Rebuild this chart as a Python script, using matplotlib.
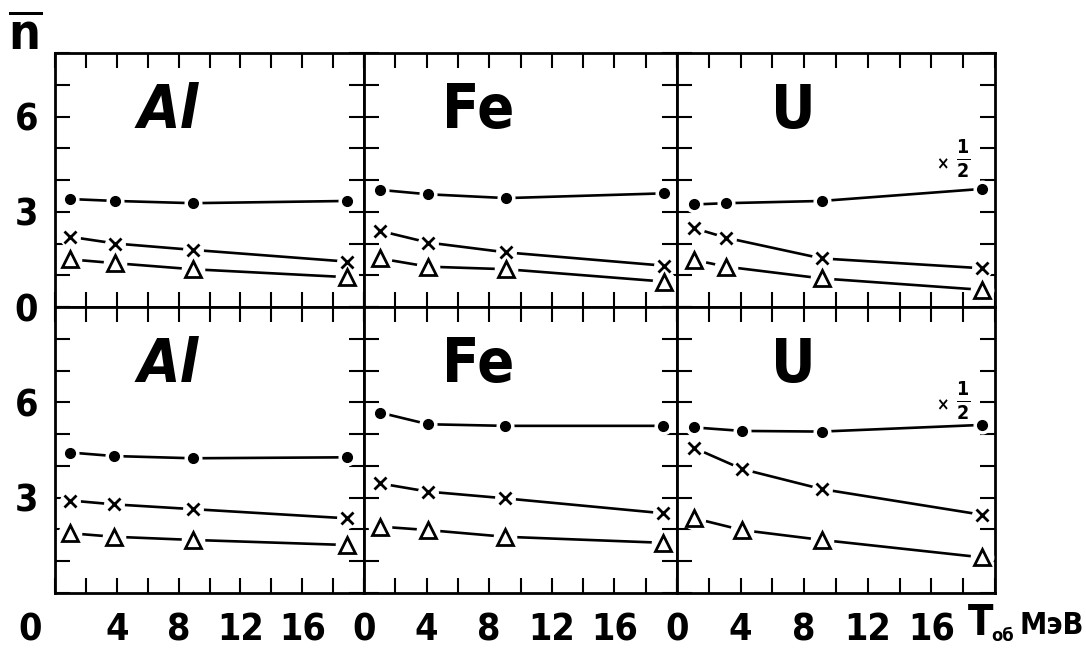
import matplotlib
matplotlib.use("Agg")
import matplotlib.pyplot as plt
from matplotlib import font_manager

# ---------------- data ----------------
elements = ["Al", "Fe", "U"]
x_tick_pos = [0, 4, 8, 12, 16]
x_ticklabels = ["0", "4", "8", "12", "16"]
y_tick_pos = [0, 3, 6]
y_ticklabels = ["0", "3", "6"]

# top row
top_al_x = [1.0, 3.9, 8.9, 18.9]
top_al_dot = [3.40, 3.34, 3.27, 3.34]
top_al_cross = [2.21, 2.00, 1.80, 1.43]
top_al_tri = [1.50, 1.38, 1.19, 0.94]

top_fe_x = [1.0, 4.1, 9.1, 19.2]
top_fe_dot = [3.69, 3.55, 3.43, 3.58]
top_fe_cross = [2.40, 2.03, 1.72, 1.30]
top_fe_tri = [1.53, 1.27, 1.19, 0.80]

top_u_x = [1.1, 3.1, 9.1, 19.2]
top_u_dot = [3.23, 3.27, 3.34, 3.72]
top_u_cross = [2.48, 2.18, 1.53, 1.22]
top_u_tri = [1.48, 1.27, 0.90, 0.54]

# bottom row
bot_al_x = [1.0, 3.8, 8.9, 18.9]
bot_al_dot = [4.42, 4.31, 4.24, 4.27]
bot_al_cross = [2.91, 2.79, 2.64, 2.35]
bot_al_tri = [1.88, 1.77, 1.67, 1.51]

bot_fe_x = [1.0, 4.1, 9.0, 19.1]
bot_fe_dot = [5.68, 5.31, 5.26, 5.26]
bot_fe_cross = [3.45, 3.19, 2.98, 2.51]
bot_fe_tri = [2.09, 1.98, 1.77, 1.58]

bot_u_x = [1.1, 4.1, 9.1, 19.2]
bot_u_dot = [5.21, 5.10, 5.08, 5.29]
bot_u_cross = [4.56, 3.90, 3.27, 2.46]
bot_u_tri = [2.35, 1.98, 1.67, 1.12]

# ---------------- style ----------------
avail = {f.name: f for f in font_manager.fontManager.ttflist}
cond = [f for f in font_manager.fontManager.ttflist
        if f.name == "DejaVu Sans" and f.stretch == "condensed"]
if "Liberation Sans Narrow" in avail:
    FAM = ["Liberation Sans Narrow", "DejaVu Sans"]
    STRETCH = "normal"
elif cond:
    FAM = ["DejaVu Sans"]
    STRETCH = "condensed"
else:
    FAM = ["Roboto", "DejaVu Sans"]
    STRETCH = "condensed"
plt.rcParams["font.family"] = FAM
plt.rcParams["font.weight"] = "bold"
plt.rcParams["font.stretch"] = STRETCH

W, H = 1086, 649
fig = plt.figure(figsize=(W / 100, H / 100), dpi=100)
fig.patch.set_facecolor("white")

col_edges = [55, 364, 677, 995]
row_edges = [53, 307, 593]
row_ymax = [8, 9]

panels = [
    [(top_al_x, top_al_dot, top_al_cross, top_al_tri),
     (top_fe_x, top_fe_dot, top_fe_cross, top_fe_tri),
     (top_u_x, top_u_dot, top_u_cross, top_u_tri)],
    [(bot_al_x, bot_al_dot, bot_al_cross, bot_al_tri),
     (bot_fe_x, bot_fe_dot, bot_fe_cross, bot_fe_tri),
     (bot_u_x, bot_u_dot, bot_u_cross, bot_u_tri)],
]

lw = 1.9
for r in range(2):
    for c in range(3):
        x0, x1 = col_edges[c], col_edges[c + 1]
        ytop, ybot = row_edges[r], row_edges[r + 1]
        ax = fig.add_axes([x0 / W, 1 - ybot / H, (x1 - x0) / W, (ybot - ytop) / H])
        ax.set_xlim(0, 20)
        ax.set_ylim(0, row_ymax[r])
        for s in ax.spines.values():
            s.set_linewidth(2.0)
            s.set_color("black")
        xt = list(range(0, 21, 2))
        ax.set_xticks(xt)
        ax.set_xticklabels([x_ticklabels[x_tick_pos.index(v)] if v in x_tick_pos else ""
                            for v in xt])
        yt = list(range(0, row_ymax[r] + 1))
        ax.set_yticks(yt)
        ax.set_yticklabels([y_ticklabels[y_tick_pos.index(v)]
                            if (v in y_tick_pos and not (r == 1 and v == 0)) else ""
                            for v in yt])
        ax.tick_params(direction="in", length=11, width=1.5, top=True, right=True,
                       labelbottom=(r == 1), labelleft=(c == 0), color="black",
                       labelsize=27)
        ax.tick_params(axis="x", pad=14)
        ax.tick_params(axis="y", pad=12)
        for lab in ax.get_xticklabels() + ax.get_yticklabels():
            lab.set_fontstretch(STRETCH)
        if r == 1 and c == 0:
            import matplotlib.transforms as mtransforms
            lbl = ax.get_xticklabels()[0]
            lbl.set_transform(lbl.get_transform() +
                              mtransforms.ScaledTranslation(-0.25, 0, fig.dpi_scale_trans))
        xs, dots, crosses, tris = panels[r][c]
        for ys, mk, ms, mfc, mew in [(dots, "o", 7, "black", 1.0),
                                     (crosses, "x", 9, "black", 2.0),
                                     (tris, "^", 11, "white", 2.0)]:
            ax.plot(xs, ys, "-", color="black", lw=lw, zorder=2)
            ax.plot(xs, ys, "o", ms=ms + 5, color="white", mec="white", zorder=3)
            ax.plot(xs, ys, mk, ms=ms, mfc=mfc, mec="black", mew=mew, zorder=4,
                    color="black")
        name = elements[c]
        ax.text(7.3, row_ymax[r] - 1.85, name, fontsize=44, ha="center", va="center",
                fontweight="bold", fontstretch=STRETCH,
                fontstyle="italic" if name == "Al" else "normal")
        if c == 2:
            yx = 4.5 if r == 0 else 5.9
            ax.text(16.7, yx, "×", fontsize=12, ha="center", va="center")
            ax.text(18.0, yx + 0.15, r"$\mathbf{\frac{1}{2}}$", fontsize=20,
                    ha="center", va="center")

# axis label texts
fig.text(25 / W, 1 - 35 / H, r"$\overline{\mathrm{n}}$", fontsize=36,
         ha="center", va="center")
fig.text(981 / W, 1 - 623 / H, "T", fontsize=30, ha="center", va="center",
         fontstretch=STRETCH)
fig.text(1003 / W, 1 - 636 / H, "об", fontsize=13, ha="center", va="center",
         fontstretch=STRETCH)
fig.text(1052 / W, 1 - 626 / H, "МэВ", fontsize=22, ha="center", va="center",
         fontstretch=STRETCH)

fig.savefig("out.png", dpi=100, facecolor="white")
